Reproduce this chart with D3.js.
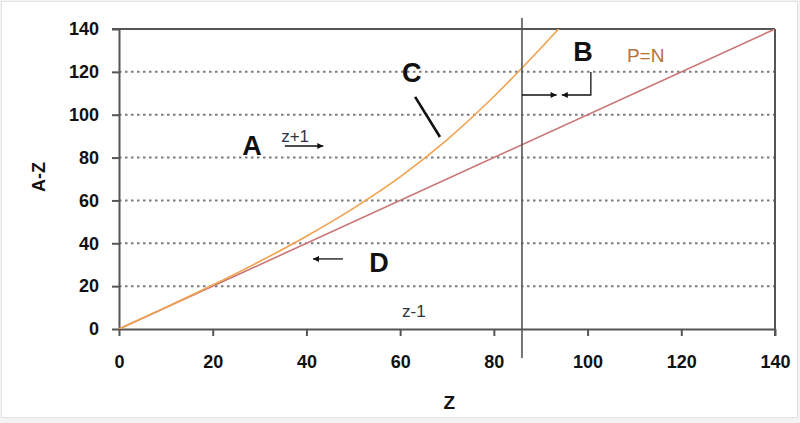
<!DOCTYPE html>
<html>
<head>
<meta charset="utf-8">
<script src="https://cdn.jsdelivr.net/npm/d3@7/dist/d3.min.js"></script>
<style>
  html, body { margin: 0; padding: 0; background: #f3f3f3; }
  svg { display: block; }
  text { font-family: "Liberation Sans", Arial, sans-serif; }
</style>
</head>
<body>
<svg id="chart" width="800" height="423"></svg>
<script>
// ---- data ----
const xTicks = [0, 20, 40, 60, 80, 100, 120, 140];
const yTicks = [0, 20, 40, 60, 80, 100, 120, 140];
// curve C (stability curve), Z vs A-Z
const curveZ  = [0, 10, 20, 30, 40, 50, 60, 70, 80, 90, 94];
const curveN  = [0, 10.1, 20.5, 31.5, 43.3, 56.3, 71, 88.3, 108.5, 131, 140.5];
// line P=N
const lineZ = [0, 140];
const lineN = [0, 140];
// vertical boundary
const boundaryZ = 86;

const svg = d3.select("#chart");
svg.append("rect").attr("x", 1.5).attr("y", 1.5).attr("width", 796).attr("height", 416)
  .attr("fill", "#fff").attr("stroke", "#e2e2e2").attr("stroke-width", 1);

const mLeft = 119, mRight = 775, mTop = 29, mBottom = 329;
const x = d3.scaleLinear().domain([0, 140]).range([mLeft, mRight]);
const y = d3.scaleLinear().domain([0, 140]).range([mBottom, mTop]);

const axisColor = "#555";

// gridlines (dotted)
svg.append("g").selectAll("line").data(yTicks.filter(d => d > 0 && d < 140)).join("line")
  .attr("x1", x(0)).attr("x2", x(140))
  .attr("y1", d => y(d)).attr("y2", d => y(d))
  .attr("stroke", "#7a7a7a").attr("stroke-width", 2).attr("stroke-dasharray", "2.5,3.5");

// axes
const gx = svg.append("g").attr("transform", `translate(0,${mBottom})`)
  .call(d3.axisBottom(x).tickValues(xTicks).tickSize(7).tickPadding(19).tickSizeOuter(0));
const gy = svg.append("g").attr("transform", `translate(${mLeft},0)`)
  .call(d3.axisLeft(y).tickValues(yTicks).tickSize(7).tickPadding(13).tickSizeOuter(0));
[gx, gy].forEach(g => {
  g.select(".domain").attr("stroke", axisColor).attr("stroke-width", 2);
  g.selectAll(".tick line").attr("stroke", axisColor).attr("stroke-width", 2);
  g.selectAll(".tick text").attr("fill", "#111").attr("font-size", 18).attr("font-weight", "bold")
    .attr("font-family", "'Liberation Sans', Arial, sans-serif");
});
// top & right frame
svg.append("line").attr("x1", x(0) - 7).attr("x2", x(140)).attr("y1", y(140)).attr("y2", y(140))
  .attr("stroke", axisColor).attr("stroke-width", 2);
svg.append("line").attr("x1", x(140)).attr("x2", x(140)).attr("y1", y(140)).attr("y2", y(0) + 7)
  .attr("stroke", axisColor).attr("stroke-width", 2);

// axis titles
svg.append("text").attr("x", x(70.5)).attr("y", 409).attr("text-anchor", "middle")
  .attr("font-size", 19).attr("font-weight", "bold").attr("fill", "#111").text("Z");
svg.append("text").attr("transform", `translate(45,177) rotate(-90)`).attr("text-anchor", "middle")
  .attr("font-size", 18).attr("font-weight", "bold").attr("fill", "#111").text("A-Z");

// clip
const defs = svg.append("defs");
defs.append("clipPath").attr("id", "plotclip").append("rect")
  .attr("x", mLeft).attr("y", mTop).attr("width", mRight - mLeft).attr("height", mBottom - mTop);

const line = d3.line().x(d => x(d[0])).y(d => y(d[1]));
svg.append("path").datum(lineZ.map((z, i) => [z, lineN[i]]))
  .attr("d", line).attr("fill", "none").attr("stroke", "#c97676").attr("stroke-width", 1.6)
  .attr("clip-path", "url(#plotclip)");
svg.append("path").datum(curveZ.map((z, i) => [z, curveN[i]]))
  .attr("d", line.curve(d3.curveMonotoneX)).attr("fill", "none").attr("stroke", "#f0a24f").attr("stroke-width", 1.6)
  .attr("clip-path", "url(#plotclip)");

// vertical boundary
svg.append("line").attr("x1", x(boundaryZ)).attr("x2", x(boundaryZ)).attr("y1", 18).attr("y2", 358)
  .attr("stroke", "#555").attr("stroke-width", 1.6);

// arrow marker
defs.append("marker").attr("id", "arr").attr("viewBox", "0 0 10 10").attr("refX", 10).attr("refY", 5)
  .attr("markerWidth", 8).attr("markerHeight", 6).attr("markerUnits", "userSpaceOnUse").attr("orient", "auto")
  .append("path").attr("d", "M0,0 L10,5 L0,10 z").attr("fill", "#111");

const big = (t, zx, ny) => svg.append("text").attr("x", x(zx)).attr("y", y(ny)).attr("text-anchor", "middle")
  .attr("font-size", 27).attr("font-weight", "bold").attr("fill", "#111").text(t);

// A
big("A", 28.4, 81.2);
svg.append("text").attr("x", x(34.6)).attr("y", y(87.5)).attr("font-size", 17).attr("fill", "#2e3440").text("z+1");
svg.append("line").attr("x1", x(35.4)).attr("x2", x(43.6)).attr("y1", y(85.4)).attr("y2", y(85.4))
  .attr("stroke", "#111").attr("stroke-width", 1.3).attr("marker-end", "url(#arr)");

// C
big("C", 62.5, 115.4);
svg.append("line").attr("x1", x(63.2)).attr("x2", x(68.5)).attr("y1", y(108.3)).attr("y2", y(89.6))
  .attr("stroke", "#111").attr("stroke-width", 2.6);

// B
big("B", 99, 125.2);
svg.append("line").attr("x1", x(boundaryZ)).attr("x2", x(93.4)).attr("y1", y(109.2)).attr("y2", y(109.2))
  .attr("stroke", "#111").attr("stroke-width", 1.3).attr("marker-end", "url(#arr)");
svg.append("path").attr("d", `M${x(100.7)},${y(119.9)} L${x(100.7)},${y(109.2)} L${x(94.5)},${y(109.2)}`)
  .attr("fill", "none").attr("stroke", "#111").attr("stroke-width", 1.3).attr("marker-end", "url(#arr)");

// P=N
svg.append("text").attr("x", x(108.4)).attr("y", y(124.4)).attr("font-size", 19).attr("fill", "#b8703c").text("P=N");

// D
big("D", 55.5, 26.8);
svg.append("line").attr("x1", x(47.8)).attr("x2", x(41.4)).attr("y1", y(32.7)).attr("y2", y(32.7))
  .attr("stroke", "#111").attr("stroke-width", 1.3).attr("marker-end", "url(#arr)");

// z-1
svg.append("text").attr("x", x(60.4)).attr("y", y(5.8)).attr("font-size", 17).attr("fill", "#2e3440").text("z-1");
</script>
</body>
</html>
